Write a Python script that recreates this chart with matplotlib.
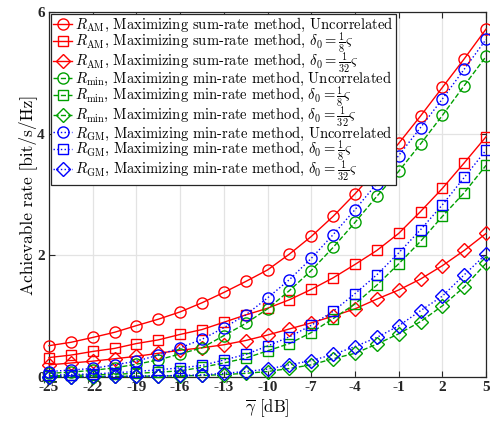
import numpy as np
import matplotlib
matplotlib.use("Agg")
import matplotlib.pyplot as plt

# Average SNR grid in dB
snr_db = np.arange(-25, 5.01, 1.5)

# Maximizing sum-rate method, R_AM
r_am_uncorr = [0.515, 0.57, 0.65, 0.735, 0.845, 0.95, 1.07, 1.22, 1.39, 1.57, 1.76,
               2.02, 2.31, 2.64, 3.01, 3.41, 3.84, 4.29, 4.76, 5.23, 5.72]
r_am_d8 = [0.32, 0.36, 0.42, 0.47, 0.55, 0.61, 0.70, 0.78, 0.90, 1.02, 1.13,
           1.27, 1.44, 1.63, 1.85, 2.08, 2.36, 2.72, 3.10, 3.52, 3.95]
r_am_d32 = [0.20, 0.23, 0.26, 0.30, 0.34, 0.39, 0.44, 0.48, 0.53, 0.60, 0.69,
            0.79, 0.89, 1.00, 1.12, 1.28, 1.43, 1.61, 1.83, 2.08, 2.36]

# Maximizing min-rate method, R_min
r_min_uncorr = [0.06, 0.08, 0.11, 0.15, 0.21, 0.28, 0.38, 0.48, 0.68, 0.88, 1.12,
                1.42, 1.75, 2.13, 2.54, 2.97, 3.38, 3.83, 4.30, 4.79, 5.27]
r_min_d8 = [0.02, 0.025, 0.035, 0.045, 0.06, 0.08, 0.10, 0.16, 0.23, 0.31, 0.43,
            0.55, 0.73, 0.96, 1.20, 1.51, 1.86, 2.23, 2.64, 3.03, 3.48]
r_min_d32 = [0.004, 0.005, 0.007, 0.009, 0.012, 0.015, 0.02, 0.025, 0.04, 0.06, 0.09,
             0.14, 0.20, 0.30, 0.39, 0.54, 0.71, 0.91, 1.17, 1.48, 1.87]

# Maximizing min-rate method, R_GM
r_gm_uncorr = [0.09, 0.115, 0.14, 0.20, 0.26, 0.36, 0.48, 0.62, 0.81, 1.02, 1.30,
               1.60, 1.95, 2.34, 2.75, 3.18, 3.64, 4.10, 4.57, 5.06, 5.55]
r_gm_d8 = [0.03, 0.04, 0.05, 0.07, 0.09, 0.12, 0.15, 0.19, 0.28, 0.37, 0.51,
           0.66, 0.85, 1.08, 1.37, 1.68, 2.04, 2.42, 2.83, 3.28, 3.73]
r_gm_d32 = [0.005, 0.007, 0.009, 0.012, 0.015, 0.02, 0.025, 0.035, 0.06, 0.09, 0.13,
            0.20, 0.27, 0.37, 0.50, 0.65, 0.84, 1.09, 1.33, 1.68, 2.02]

x_ticks = np.arange(-25, 6, 3)
y_ticks = [0, 2, 4, 6]

red = "#ff0000"
green = "#00a000"
blue = "#0000ff"

plt.rcParams["mathtext.fontset"] = "cm"
plt.rcParams["axes.unicode_minus"] = False

fig = plt.figure(figsize=(4.9, 4.21), dpi=100)
ax = fig.add_axes([0.1, 0.1045, 0.892, 0.867])

series = [
    (r_am_uncorr, red, "-", "o", r"$R_{\rm AM}$, Maximizing sum-rate method, Uncorrelated"),
    (r_am_d8, red, "-", "s", r"$R_{\rm AM}$, Maximizing sum-rate method, $\delta_0=\frac{1}{8}\varsigma$"),
    (r_am_d32, red, "-", "D", r"$R_{\rm AM}$, Maximizing sum-rate method, $\delta_0=\frac{1}{32}\varsigma$"),
    (r_min_uncorr, green, "--", "o", r"$R_{\rm min}$, Maximizing min-rate method, Uncorrelated"),
    (r_min_d8, green, "--", "s", r"$R_{\rm min}$, Maximizing min-rate method, $\delta_0=\frac{1}{8}\varsigma$"),
    (r_min_d32, green, "--", "D", r"$R_{\rm min}$, Maximizing min-rate method, $\delta_0=\frac{1}{32}\varsigma$"),
    (r_gm_uncorr, blue, ":", "o", r"$R_{\rm GM}$, Maximizing min-rate method, Uncorrelated"),
    (r_gm_d8, blue, ":", "s", r"$R_{\rm GM}$, Maximizing min-rate method, $\delta_0=\frac{1}{8}\varsigma$"),
    (r_gm_d32, blue, ":", "D", r"$R_{\rm GM}$, Maximizing min-rate method, $\delta_0=\frac{1}{32}\varsigma$"),
]

# marker sizes per shape
sizes = {"o": 8, "s": 7, "D": 7.5}

for vals, col, ls, mk, lab in series:
    ax.plot(snr_db, vals, color=col, linestyle=ls, linewidth=1.0, marker=mk,
            markersize=sizes[mk], markerfacecolor="none", markeredgewidth=1.0,
            label=lab, clip_on=False, zorder=3)

ax.set_xlim(-25, 5)
ax.set_ylim(0, 6)
ax.set_xticks(x_ticks)
ax.set_yticks(y_ticks)
ax.set_xticklabels([str(v) for v in x_ticks], fontfamily="Liberation Serif",
                   fontweight="bold", fontsize=11)
ax.set_yticklabels([str(v) for v in y_ticks], fontfamily="Liberation Serif",
                   fontweight="bold", fontsize=11)
ax.tick_params(direction="in", top=True, right=True, length=4, width=0.8,
               colors="#262626", pad=3)
ax.grid(True, color="#e3e3e3", linewidth=0.9)
ax.set_axisbelow(True)
for sp in ax.spines.values():
    sp.set_color("#262626")
    sp.set_linewidth(0.9)

ax.set_xlabel(r"$\overline{\gamma}$ [dB]", fontfamily="cmr10", fontsize=12, labelpad=2)
ax.set_ylabel("Achievable rate [bit/s/Hz]", fontfamily="cmr10", fontsize=12.5, labelpad=0)

leg = ax.legend(loc="upper left", prop={"family": "cmr10", "size": 10.5},
                handlelength=1.3, handletextpad=0.2, borderpad=0.15,
                labelspacing=-0.3, borderaxespad=0.15, fancybox=False,
                framealpha=1, edgecolor="#262626")
leg.get_frame().set_linewidth(0.9)
leg.set_zorder(5)

fig.savefig("out.png", dpi=100)
